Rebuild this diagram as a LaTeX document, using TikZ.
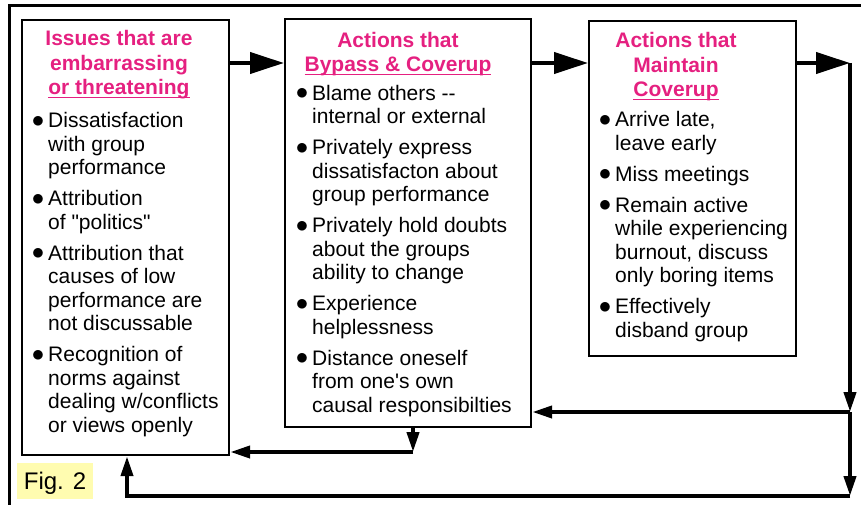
\documentclass[tikz,border=0pt]{standalone}
\usepackage{fontspec}
\setmainfont{Liberation Sans}
\usetikzlibrary{arrows.meta}

\definecolor{titlepink}{RGB}{229,32,128}
\definecolor{figyellow}{RGB}{255,252,176}

% hanging bullet and title underline
\newcommand{\itm}{\makebox[0pt][r]{\raisebox{0.5pt}{\fontsize{27}{27}\selectfont$\bullet$}\hspace{4pt}}}
\newcommand{\ttlline}[1]{\setbox0\hbox{#1}\rlap{\rule[-3.5pt]{\wd0}{1.6pt}}\box0}

\tikzset{
  box/.style={draw, line width=2.2pt, anchor=north west, inner sep=0pt},
  ttl/.style={font=\fontsize{21}{24.5}\selectfont\bfseries, text=titlepink,
    align=center, anchor=base, inner sep=0pt},
  txt/.style={font=\fontsize{21}{23.5}\selectfont, align=left,
    anchor=base west, inner sep=0pt},
  link/.style={line width=4pt},
  bigarrow/.style={-{Triangle[length=34pt,width=21pt]}},
  smallarrow/.style={-{Triangle[length=20pt,width=12pt]}}
}

\begin{document}
\begin{tikzpicture}[x=1pt,y=-1pt]
\useasboundingbox (0,0) rectangle (861,505);
\draw[line width=3pt] (9,505) -- (9,6) -- (861,6);

% the three boxes
\node[box, minimum width=207pt, minimum height=435pt] (issues) at (21,19) {};
\node[box, minimum width=246pt, minimum height=408pt] (bypass) at (284,18) {};
\node[box, minimum width=207pt, minimum height=335pt] (maintain) at (588,20) {};

% texts sit on the baseline of their last line
\node[ttl] (issuesttl) at (119,95) {Issues that are\\embarrassing\\\ttlline{or threatening}};
\node[txt] (issuestxt) at (48,432) {\itm Dissatisfaction\\with group\\performance\\[7.5pt]
  \itm Attribution\\of \textquotedbl politics\textquotedbl\\[7.5pt]
  \itm Attribution that\\causes of low\\performance are\\not discussable\\[7.5pt]
  \itm Recognition of\\norms against\\dealing w/conflicts\\or views openly};

\node[ttl] (bypassttl) at (398,72) {Actions that\\\ttlline{Bypass \& Coverup}};
\node[txt] (bypasstxt) at (312,412) {\itm Blame others -{}-\\internal or external\\[7.5pt]
  \itm Privately express\\dissatisfacton about\\group performance\\[7.5pt]
  \itm Privately hold doubts\\about the groups\\ability to change\\[7.5pt]
  \itm Experience\\helplessness\\[7.5pt]
  \itm Distance oneself\\from one\textquotesingle s own\\causal responsibilties};

\node[ttl] (maintainttl) at (676,97) {Actions that\\Maintain\\\ttlline{Coverup}};
\node[txt] (maintaintxt) at (615,337) {\itm Arrive late,\\leave early\\[7.5pt]
  \itm Miss meetings\\[7.5pt]
  \itm Remain active\\while experiencing\\burnout, discuss\\only boring items\\[7.5pt]
  \itm Effectively\\disband group};

\node[fill=figyellow, minimum width=76pt, minimum height=36pt, inner sep=0pt,
  font=\fontsize{24}{26}\selectfont, text height=17.5pt, text depth=0pt]
  (fig) at (55,481) {Fig. 2};

% feedback loop
\coordinate (rtop) at (850,63);
\coordinate (rmid) at (850,412);
\coordinate (rbot) at (850,496);
\coordinate (lbot) at (127,496);
\coordinate (mbot) at (413,452);

\draw[link,bigarrow] (issues.east |- rtop) -- (bypass.west |- rtop);
\draw[link,bigarrow] (bypass.east |- rtop) -- (maintain.west |- rtop);
\draw[link,bigarrow] (maintain.east |- rtop) -- (rtop);
\draw[link,smallarrow] (rtop) -- (rmid);
\draw[link,smallarrow] (rmid) -- (bypass.east |- rmid);
\draw[link,smallarrow] (rmid) -- (rbot);
\draw[link,smallarrow] (rbot) -- (lbot) -- (issues.south -| lbot);
\draw[link,smallarrow] (bypass.south -| mbot) -- (mbot);
\draw[link,smallarrow] (mbot) -- (issues.east |- mbot);
\end{tikzpicture}
\end{document}
